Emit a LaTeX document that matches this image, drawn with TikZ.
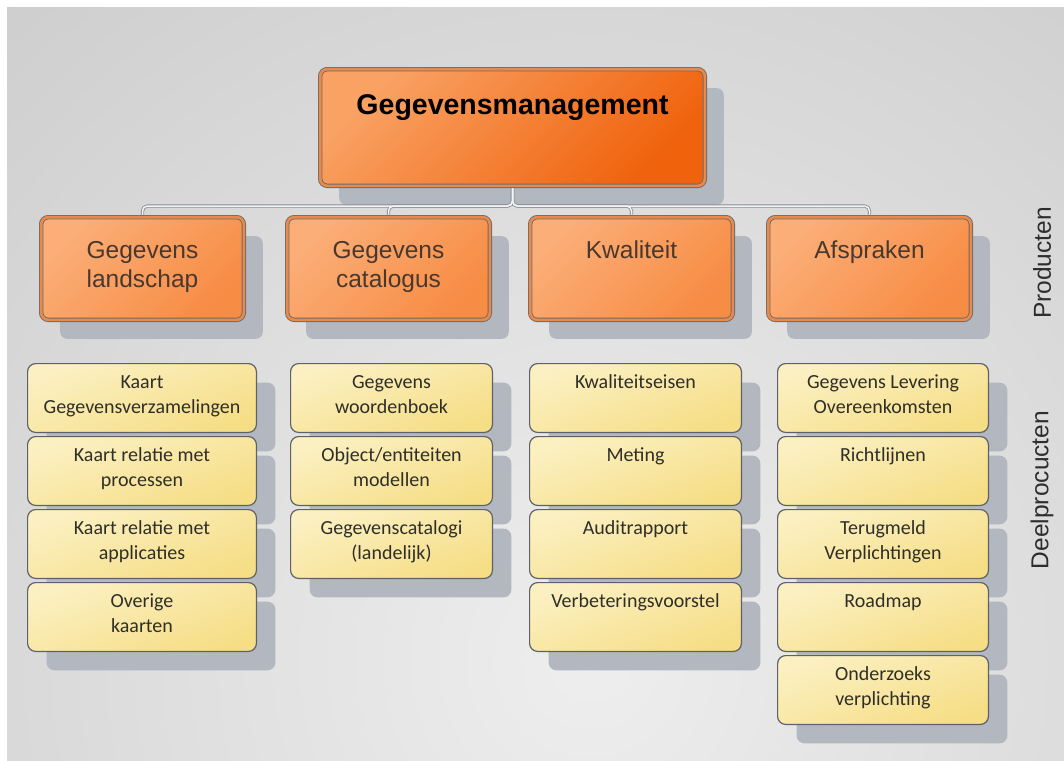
\documentclass[tikz,border=0pt]{standalone}
\usepackage{fontspec}
\usetikzlibrary{shadows}
\newfontfamily\arialfont{Liberation Sans}
\newfontfamily\calibrifont{Carlito}

\definecolor{bgdark}{HTML}{BFBFBF}
\definecolor{bglight}{HTML}{EEEEEE}
\definecolor{shadowgray}{HTML}{B3B7BF}
\definecolor{rimgray}{HTML}{6E6A68}
\definecolor{rimband}{HTML}{E98A4C}
\definecolor{mgmttop}{HTML}{F9A264}
\definecolor{mgmtbot}{HTML}{F0620C}
\definecolor{prodtop}{HTML}{FBAE78}
\definecolor{prodbot}{HTML}{F78C44}
\definecolor{prodtext}{HTML}{4A382C}
\definecolor{subtop}{HTML}{FBF0C2}
\definecolor{subbot}{HTML}{F6DE86}
\definecolor{subrim}{HTML}{5E6168}
\definecolor{subtext}{HTML}{2F2F28}
\definecolor{sidetext}{HTML}{2E2E2E}
\definecolor{busgray}{HTML}{8A8F96}
\definecolor{buswhite}{HTML}{F2F3F4}

\tikzset{
  shadowed/.style={drop shadow={shadow xshift=19pt, shadow yshift=-19pt, fill=shadowgray, opacity=1}},
  orangebox/.style={shadowed, draw=rimgray, double=rimband, double distance=2.6pt, line width=0.9pt,
    rounded corners=7pt, align=center, execute at begin node=\strut, execute at end node=\strut},
  mgmtbox/.style={orangebox, top color=mgmttop, bottom color=mgmtbot, shading angle=45,
    minimum width=384.6pt, minimum height=116.6pt, text=black,
    font=\arialfont\bfseries\fontsize{28.5}{35}\selectfont},
  prodbox/.style={orangebox, top color=prodtop, bottom color=prodbot, shading angle=45,
    minimum width=202.6pt, minimum height=102.6pt, text=prodtext,
    font=\arialfont\fontsize{24.5}{29}\selectfont},
  subbox/.style={shadowed, draw=subrim, line width=1.2pt, rounded corners=8pt,
    top color=subtop, bottom color=subbot, shading angle=20, minimum height=68.8pt,
    align=center, text=subtext, font=\calibrifont\fontsize{20}{25}\selectfont,
    execute at begin node=\strut, execute at end node=\strut},
  busline/.style={draw=busgray, line width=3.2pt, rounded corners=5pt, shorten <=2.2pt, shorten >=2.2pt},
  busfill/.style={draw=buswhite, line width=1.5pt, rounded corners=5pt, shorten <=2.2pt, shorten >=2.2pt},
  sidelabel/.style={rotate=90, text=sidetext, font=\arialfont\fontsize{24.5}{29}\selectfont}
}

\begin{document}
\begin{tikzpicture}[x=1pt, y=-1pt]
    \useasboundingbox (0,0) rectangle (1064,760);
    % background
    \fill[white] (0,0) rectangle (1064,760);
    \begin{scope}
        \clip (7,8) rectangle (1064,760);
        \shade[inner color=bglight, outer color=bgdark] (590,660) circle (1300pt);
    \end{scope}

    % top and products
    \node[mgmtbox] (mgmt) at (512.5,127.5) {Gegevensmanagement\\~};
    \node[prodbox] (landschap) at (142.5,268.5) {Gegevens\\landschap};
    \node[prodbox] (catalogus) at (388.5,268.5) {Gegevens\\catalogus};
    \node[prodbox] (kwaliteit) at (631.5,268.5) {Kwaliteit\\~};
    \node[prodbox] (afspraken) at (869.5,268.5) {Afspraken\\~};

    % connectors
    \coordinate (bus) at (512.5,206);
    \foreach \prod in {landschap,catalogus,kwaliteit,afspraken}
        \draw[busline] (mgmt.south) -- (mgmt.south |- bus) -- (\prod.north |- bus) -- (\prod.north);
    \foreach \prod in {landschap,catalogus,kwaliteit,afspraken}
        \draw[busfill] (mgmt.south) -- (mgmt.south |- bus) -- (\prod.north |- bus) -- (\prod.north);

    % deelproducten
    \node[subbox, minimum width=228.8pt] (kaart1) at (142,398) {Kaart\\Gegevensverzamelingen};
    \node[subbox, minimum width=228.8pt] (kaart2) at (142,471) {Kaart relatie met\\processen};
    \node[subbox, minimum width=228.8pt] (kaart3) at (142,544) {Kaart relatie met\\applicaties};
    \node[subbox, minimum width=228.8pt] (kaart4) at (142,617) {Overige\\kaarten};

    \node[subbox, minimum width=201.8pt] (woord) at (391.5,398) {Gegevens\\woordenboek};
    \node[subbox, minimum width=201.8pt] (model) at (391.5,471) {Object/entiteiten\\modellen};
    \node[subbox, minimum width=201.8pt] (catal) at (391.5,544) {Gegevenscatalogi\\(landelijk)};

    \node[subbox, minimum width=211.8pt] (eisen) at (635.5,398) {Kwaliteitseisen\\~};
    \node[subbox, minimum width=211.8pt] (meting) at (635.5,471) {Meting\\~};
    \node[subbox, minimum width=211.8pt] (audit) at (635.5,544) {Auditrapport\\~};
    \node[subbox, minimum width=211.8pt] (voorstel) at (635.5,617) {Verbeteringsvoorstel\\~};

    \node[subbox, minimum width=210.8pt] (levering) at (883,398) {Gegevens Levering\\Overeenkomsten};
    \node[subbox, minimum width=210.8pt] (richtl) at (883,471) {Richtlijnen\\~};
    \node[subbox, minimum width=210.8pt] (terug) at (883,544) {Terugmeld\\Verplichtingen};
    \node[subbox, minimum width=210.8pt] (roadmap) at (883,617) {Roadmap\\~};
    \node[subbox, minimum width=210.8pt] (onderz) at (883,690) {Onderzoeks\\verplichting};

    % side labels
    \node[sidelabel] (producten) at (1042,263) {Producten};
    \node[sidelabel] (deelprod) at (1042,490) {Deelprocucten};
\end{tikzpicture}
\end{document}
